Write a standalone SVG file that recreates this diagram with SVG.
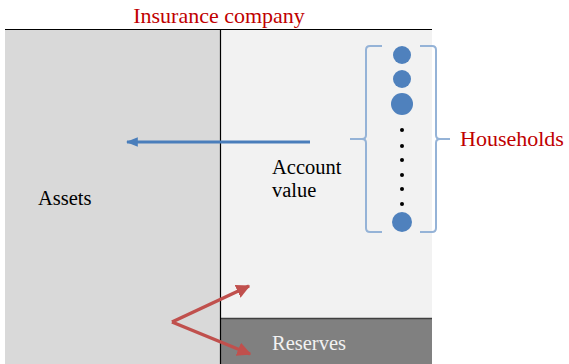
<svg xmlns="http://www.w3.org/2000/svg" width="569" height="364" viewBox="0 0 569 364">
<style>
.t{font-family:"Liberation Serif",serif;}
.red{fill:#c00000;font-size:22px;}
.blk{fill:#000;font-size:20.5px;}
.hh{fill:#4f81bd;}
.dot{fill:#000;}
.br{fill:none;stroke:#95b3d7;stroke-width:2;}
</style>
<defs>
<marker id="ab" viewBox="0 0 10 10" refX="9" refY="5" markerWidth="4" markerHeight="4" orient="auto" markerUnits="strokeWidth"><path d="M0,1 L10,5 L0,9 Z" fill="#4a7ebb"/></marker>
<marker id="ar" viewBox="0 0 10 10" refX="9" refY="5" markerWidth="4" markerHeight="4" orient="auto" markerUnits="strokeWidth"><path d="M0,0 L10,5 L0,10 Z" fill="#c0504d"/></marker>
</defs>
<rect width="569" height="364" fill="#fff"/>
<g id="assets">
<rect x="5" y="29" width="215" height="335" fill="#d9d9d9"/>
<text class="t blk" x="38" y="205" font-size="21.5">Assets</text>
</g>
<g id="liabilities">
<rect x="220" y="29" width="212" height="289" fill="#f2f2f2"/>
<text class="t blk" x="272" y="174">Account</text>
<text class="t blk" x="272" y="197">value</text>
</g>
<g id="reserves">
<rect x="220" y="318" width="212" height="46" fill="#808080"/>
<line x1="220" y1="318.5" x2="432" y2="318.5" stroke="#404040" stroke-width="1.5"/>
<text class="t" x="272" y="350" font-size="20.5" fill="#f2f2f2">Reserves</text>
</g>
<g id="frame">
<line x1="5" y1="29.5" x2="432" y2="29.5" stroke="#000" stroke-width="1.2"/>
<line x1="220.5" y1="29" x2="220.5" y2="364" stroke="#000" stroke-width="1.2"/>
<text class="t red" x="219" y="23" text-anchor="middle">Insurance company</text>
</g>
<g id="households">
<circle class="hh" cx="402" cy="55" r="9"/>
<circle class="hh" cx="402" cy="79" r="9"/>
<circle class="hh" cx="402" cy="104" r="11"/>
<circle class="dot" cx="402" cy="130" r="2"/>
<circle class="dot" cx="402" cy="146" r="2"/>
<circle class="dot" cx="402" cy="160" r="2"/>
<circle class="dot" cx="402" cy="175" r="2"/>
<circle class="dot" cx="402" cy="189" r="2"/>
<circle class="dot" cx="402" cy="204" r="2"/>
<circle class="hh" cx="402" cy="222" r="10"/>
<path class="br" d="M382,46 H370 Q366,46 366,50 V135 Q366,139 362,139 H350 M362,139 Q366,139 366,143 V228 Q366,232 370,232 H382"/>
<path class="br" d="M420,46 H432 Q436,46 436,50 V135 Q436,139 440,139 H450 M440,139 Q436,139 436,143 V228 Q436,232 432,232 H420"/>
<text class="t red" x="460" y="146">Households</text>
</g>
<g id="connectors">
<line x1="310" y1="142" x2="127" y2="142" stroke="#4a7ebb" stroke-width="3" marker-end="url(#ab)"/>
<line x1="172" y1="322" x2="249" y2="286" stroke="#c0504d" stroke-width="3.5" marker-end="url(#ar)"/>
<line x1="172" y1="322" x2="250" y2="354" stroke="#c0504d" stroke-width="3.5" marker-end="url(#ar)"/>
</g>
</svg>
